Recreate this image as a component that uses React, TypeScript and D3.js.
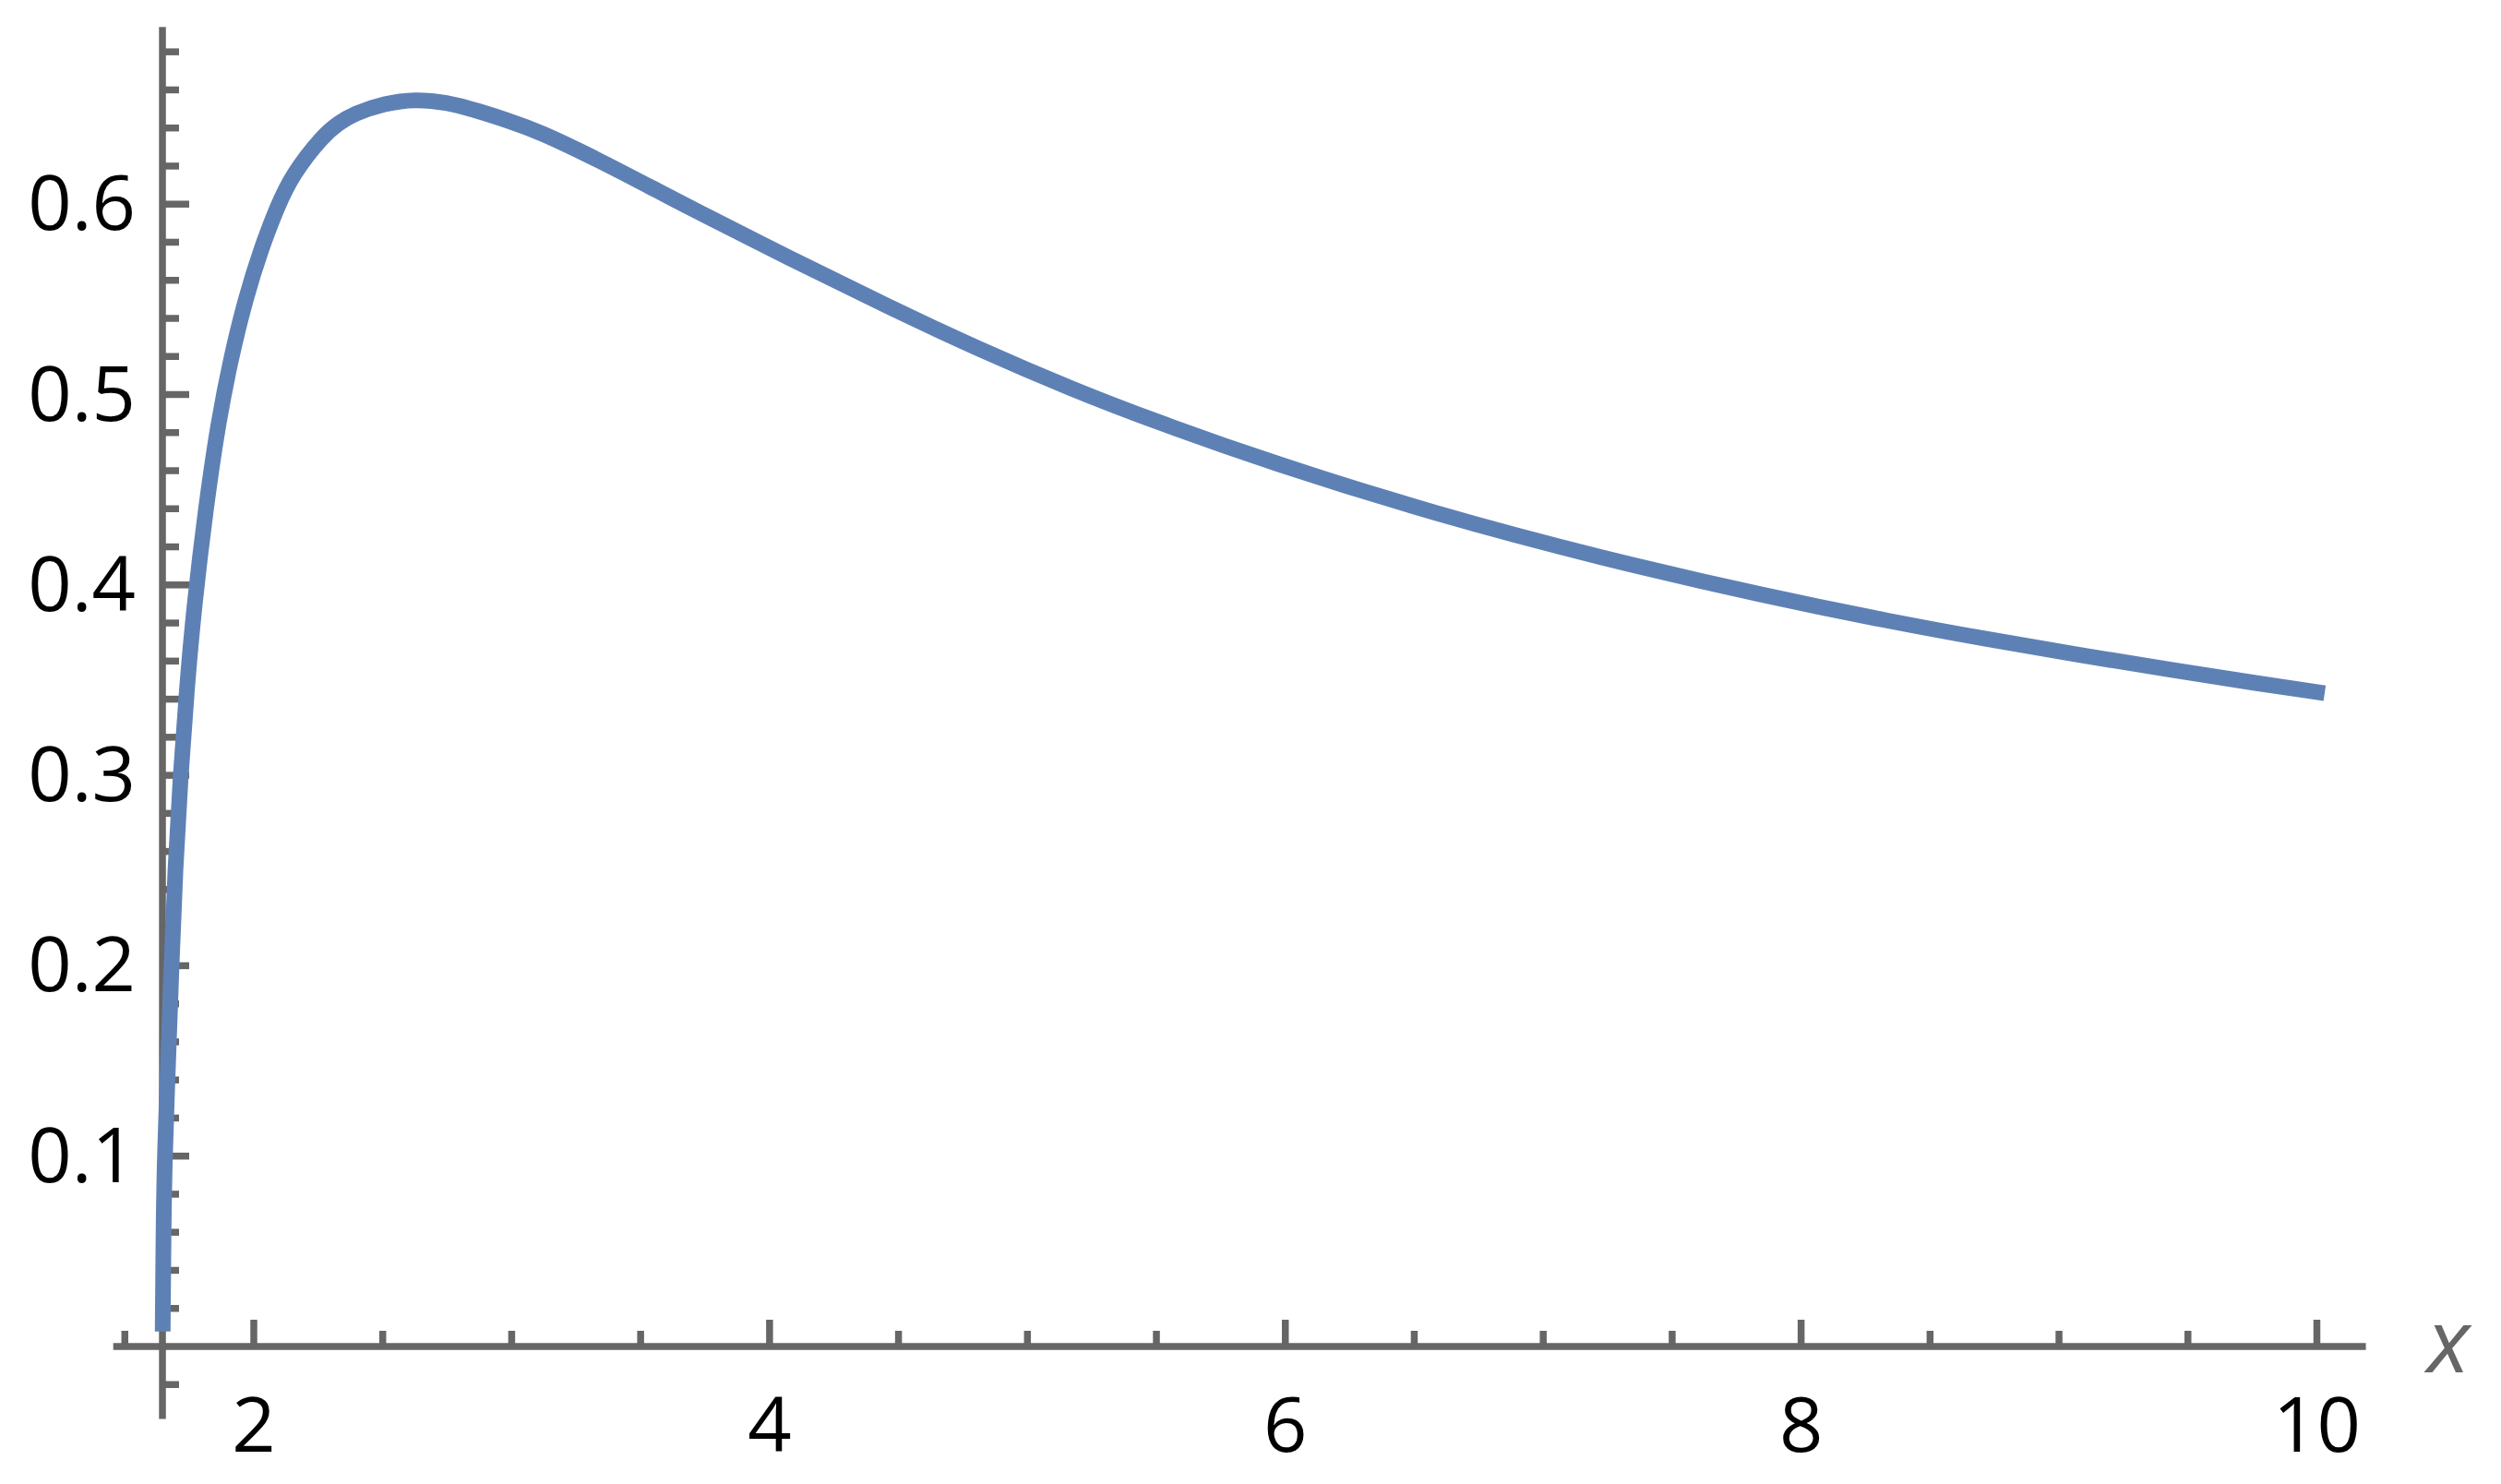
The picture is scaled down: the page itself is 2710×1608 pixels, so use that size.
import React from "react";
import * as d3 from "d3";

// curve
const curveX = [1.647, 1.65, 1.654, 1.67, 1.681, 1.695, 1.716, 1.74, 1.767, 1.815, 1.863, 1.911, 1.97, 2.031, 2.089, 2.149, 2.268, 2.328, 2.388, 2.507, 2.626, 2.746, 2.865, 2.984, 3.103, 3.342, 3.581, 3.722, 4.087, 4.452, 4.817, 5.182, 5.49, 5.95, 6.588, 7.228, 7.866, 8.353, 8.711, 9.069, 9.427, 9.785, 10];
const curveY = [0.012, 0.0625, 0.098, 0.158, 0.2, 0.25, 0.3, 0.345, 0.387, 0.442, 0.486, 0.519, 0.5515, 0.5775, 0.598, 0.6155, 0.636, 0.6425, 0.6475, 0.653, 0.6552, 0.6535, 0.6492, 0.644, 0.6384, 0.6229, 0.6059, 0.596, 0.5709, 0.5466, 0.5234, 0.5023, 0.4862, 0.464, 0.437, 0.414, 0.394, 0.3806, 0.3717, 0.3634, 0.3555, 0.348, 0.3437];

const xMajor = [2, 4, 6, 8, 10];
const xTickLabels = ["2", "4", "6", "8", "10"];
const yMajor = [0.1, 0.2, 0.3, 0.4, 0.5, 0.6];
const yTickLabels = ["0.1", "0.2", "0.3", "0.4", "0.5", "0.6"];

const xAxisExtent = [1.455, 10.19];
const yAxisExtent = [-0.038, 0.693];
const yAxisAt = 1.6458;

const W = 2710, H = 1608;
const axisColor = "#666666";
const lineColor = "#5E81B5";
const font = "'Open Sans', 'Noto Sans', sans-serif";

export default function App() {
    const x = d3.scaleLinear().domain([2, 10]).range([275, 2510.5]);
    const y = d3.scaleLinear().domain([0, 0.6]).range([1459, 221.2]);

    const xMinor = d3.range(1.5, 10.01, 0.5).filter(v => !xMajor.some(m => Math.abs(m - v) < 1e-6));
    const yMinor = d3.range(-0.02, 0.685, 0.02)
        .filter(v => Math.abs(v) > 1e-6 && !yMajor.some(m => Math.abs(m - v) < 1e-6));

    const pts = curveX.map((cx, i) => [cx, curveY[i]]);
    const line = d3.line()
        .x(d => x(d[0]))
        .y(d => y(d[1]))
        .curve(d3.curveBasis);

    const x0 = x(yAxisAt);
    const y0 = y(0);
    const sw = 7.5;

    return (
        <svg width={W} height={H} style={{ position: "absolute", left: 0, top: 0, display: "block", background: "#fff" }}>
            {/* x axis */}
            <line x1={x(xAxisExtent[0])} x2={x(xAxisExtent[1])} y1={y0} y2={y0} stroke={axisColor} strokeWidth={sw} />
            {xMinor.map(v => (
                <line key={"xm" + v} x1={x(v)} x2={x(v)} y1={y0} y2={y0 - 17} stroke={axisColor} strokeWidth={sw} />
            ))}
            {xMajor.map(v => (
                <line key={"xM" + v} x1={x(v)} x2={x(v)} y1={y0} y2={y0 - 29} stroke={axisColor} strokeWidth={sw} />
            ))}
            {xMajor.map((v, i) => (
                <text key={"xl" + v} x={x(v)} y={y0 + 114} textAnchor="middle" fontFamily={font} fontSize={83} fill="#000">
                    {xTickLabels[i]}
                </text>
            ))}
            <text x={2630} y={1487} fontFamily={font} fontStyle="italic" fontSize={96} fill={axisColor}>x</text>

            {/* y axis */}
            <line x1={x0} x2={x0} y1={y(yAxisExtent[0])} y2={y(yAxisExtent[1])} stroke={axisColor} strokeWidth={sw} />
            {yMinor.map(v => (
                <line key={"ym" + v} x1={x0} x2={x0 + 18} y1={y(v)} y2={y(v)} stroke={axisColor} strokeWidth={sw} />
            ))}
            {yMajor.map(v => (
                <line key={"yM" + v} x1={x0} x2={x0 + 29} y1={y(v)} y2={y(v)} stroke={axisColor} strokeWidth={sw} />
            ))}
            {yMajor.map((v, i) => (
                <text key={"yl" + v} x={147} y={y(v) + 28} textAnchor="end" fontFamily={font} fontSize={83} fill="#000">
                    {yTickLabels[i]}
                </text>
            ))}

            {/* curve */}
            <path d={line(pts)} fill="none" stroke={lineColor} strokeWidth={17} strokeLinecap="square" strokeLinejoin="round" />
        </svg>
    );
}
